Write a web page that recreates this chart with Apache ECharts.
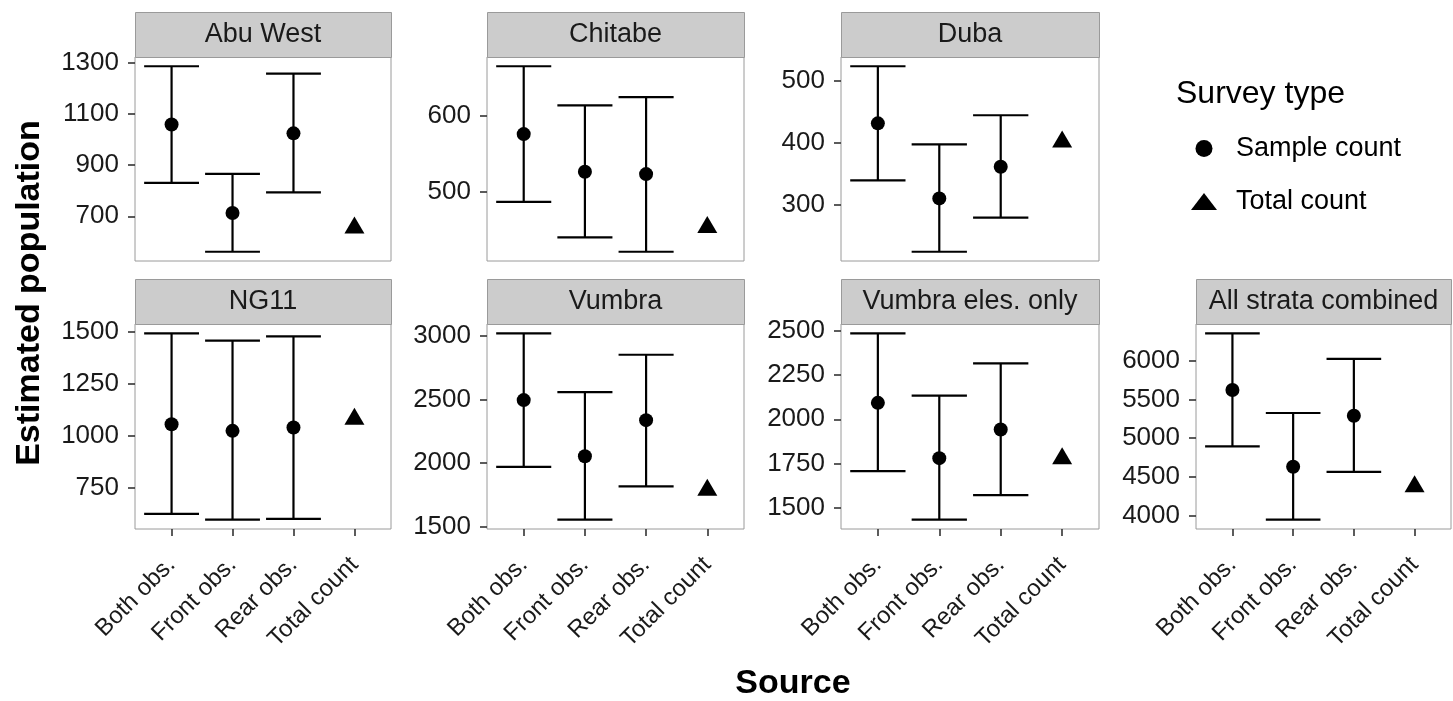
<!DOCTYPE html>
<html>
<head>
<meta charset="utf-8">
<script src="https://cdn.jsdelivr.net/npm/echarts@6/dist/echarts.min.js"></script>
<style>
  html, body { margin: 0; padding: 0; background: #fff; }
  #chart { width: 1453px; height: 701px; }
</style>
</head>
<body>
<div id="chart"></div>
<script>
// ---------------- data ----------------
const panels = ['Abu West', 'Chitabe', 'Duba', 'NG11', 'Vumbra', 'Vumbra eles. only', 'All strata combined'];
const sources = ['Both obs.', 'Front obs.', 'Rear obs.', 'Total count'];
// sample-count estimates for Both / Front / Rear obs.
const sampleEst = [
  [1060, 713, 1025],
  [576, 526, 523],
  [432, 311, 362],
  [1056, 1024, 1040],
  [2495, 2055, 2338],
  [2093, 1781, 1943],
  [5622, 4632, 5290]
];
const lowerCI = [
  [831, 561, 794],
  [486, 439, 420],
  [340, 225, 280],
  [624, 596, 600],
  [1971, 1557, 1819],
  [1708, 1434, 1573],
  [4895, 3948, 4564]
];
const upperCI = [
  [1288, 866, 1259],
  [666, 614, 625],
  [524, 398, 445],
  [1494, 1459, 1479],
  [3019, 2558, 2851],
  [2485, 2134, 2316],
  [6353, 5325, 6022]
];
const totalCount = [654, 452, 402, 1080, 1788, 1777, 4374];
const yTickValues = [
  [700, 900, 1100, 1300],
  [500, 600],
  [300, 400, 500],
  [750, 1000, 1250, 1500],
  [1500, 2000, 2500, 3000],
  [1500, 1750, 2000, 2250, 2500],
  [4000, 4500, 5000, 5500, 6000]
];
const legendNames = ['Sample count', 'Total count'];

// ---------------- layout ----------------
const rects = [
  [135, 57, 256, 204], [487, 57, 257, 204], [841, 57, 258, 204],
  [135, 324, 256, 205], [487, 324, 257, 205], [841, 324, 258, 205], [1196, 324, 255, 205]
];
const bottomRow = [false, false, false, true, true, true, true];
const STRIP_H = 45;
const FONT = '"Liberation Sans", Arial, Helvetica, sans-serif';

const grids = [], xAxes = [], yAxes = [], series = [], graphics = [];

function errorBarItem(params, api) {
  const x = api.value(0);
  const pLo = api.coord([x, api.value(1)]);
  const pHi = api.coord([x, api.value(2)]);
  const halfW = api.size([0.9, 0])[0] / 2;
  const style = { stroke: '#000', lineWidth: 2.2 };
  return {
    type: 'group',
    children: [
      { type: 'line', shape: { x1: pLo[0], y1: pHi[1], x2: pLo[0], y2: pLo[1] }, style },
      { type: 'line', shape: { x1: pHi[0] - halfW, y1: pHi[1], x2: pHi[0] + halfW, y2: pHi[1] }, style },
      { type: 'line', shape: { x1: pLo[0] - halfW, y1: pLo[1], x2: pLo[0] + halfW, y2: pLo[1] }, style }
    ]
  };
}

panels.forEach((name, i) => {
  const [l, t, w, h] = rects[i];
  grids.push({
    left: l, top: t, width: w, height: h,
    show: true, borderColor: '#9a9a9a', borderWidth: 1, backgroundColor: '#fff'
  });
  const allVals = lowerCI[i].concat(upperCI[i], [totalCount[i]]);
  const lo = Math.min(...allVals), hi = Math.max(...allVals);
  const pad = (hi - lo) * 0.05;
  xAxes.push({
    type: 'value', gridIndex: i, min: -0.6, max: 3.6, position: 'bottom',
    axisLine: { show: false, onZero: false },
    splitLine: { show: false },
    axisTick: {
      show: bottomRow[i], customValues: [0, 1, 2, 3], length: 7,
      lineStyle: { color: '#333', width: 1.6 }
    },
    axisLabel: {
      show: bottomRow[i], customValues: [0, 1, 2, 3], rotate: 45, margin: 32,
      formatter: v => sources[Math.round(v)] || '',
      color: '#1a1a1a', fontSize: 24, fontFamily: FONT
    }
  });
  yAxes.push({
    type: 'value', gridIndex: i, min: lo - pad, max: hi + pad, position: 'left',
    axisLine: { show: false, onZero: false },
    splitLine: { show: false },
    axisTick: {
      show: true, customValues: yTickValues[i], length: 7,
      lineStyle: { color: '#333', width: 1.6 }
    },
    axisLabel: {
      customValues: yTickValues[i], margin: 16,
      formatter: v => String(v),
      color: '#1a1a1a', fontSize: 26, fontFamily: FONT
    }
  });
  series.push({
    type: 'custom', name: 'CI', xAxisIndex: i, yAxisIndex: i,
    renderItem: errorBarItem,
    encode: { x: 0, y: [1, 2] },
    data: lowerCI[i].map((v, k) => [k, v, upperCI[i][k]]),
    silent: true, z: 2
  });
  series.push({
    type: 'scatter', name: legendNames[0], xAxisIndex: i, yAxisIndex: i,
    symbol: 'circle', symbolSize: 14,
    itemStyle: { color: '#000', opacity: 1 },
    data: sampleEst[i].map((v, k) => [k, v]), z: 3
  });
  series.push({
    type: 'scatter', name: legendNames[1], xAxisIndex: i, yAxisIndex: i,
    symbol: 'triangle', symbolSize: [20, 17], symbolOffset: [0, -3],
    itemStyle: { color: '#000', opacity: 1 },
    data: [[3, totalCount[i]]], z: 3
  });
  // facet strip
  graphics.push({
    type: 'rect', left: l, top: t - STRIP_H,
    shape: { width: w, height: STRIP_H },
    style: { fill: '#cccccc', stroke: '#9a9a9a', lineWidth: 1 }, z: 10
  });
  graphics.push({
    type: 'text', x: l + w / 2, y: t - STRIP_H / 2,
    style: {
      text: name, fill: '#1a1a1a', font: '27px ' + FONT,
      textAlign: 'center', textVerticalAlign: 'middle'
    }, z: 11
  });
});

// axis titles and legend title
graphics.push({
  type: 'text', x: 30, y: 293, rotation: Math.PI / 2,
  style: {
    text: 'Estimated population', fill: '#000', font: 'bold 34px ' + FONT,
    textAlign: 'center', textVerticalAlign: 'middle'
  }
});
graphics.push({
  type: 'text', x: 793, y: 684,
  style: {
    text: 'Source', fill: '#000', font: 'bold 34px ' + FONT,
    textAlign: 'center', textVerticalAlign: 'middle'
  }
});
graphics.push({
  type: 'text', x: 1176, y: 94,
  style: {
    text: 'Survey type', fill: '#000', font: '32px ' + FONT,
    textAlign: 'left', textVerticalAlign: 'middle'
  }
});

const chart = echarts.init(document.getElementById('chart'), null, { renderer: 'canvas' });
chart.setOption({
  animation: false,
  backgroundColor: '#fff',
  grid: grids,
  xAxis: xAxes,
  yAxis: yAxes,
  series: series,
  graphic: graphics,
  legend: {
    data: legendNames,
    orient: 'vertical', left: 1186, top: 130,
    itemWidth: 26, itemHeight: 17, itemGap: 26,
    textStyle: { fontSize: 27, color: '#000', fontFamily: FONT, padding: [0, 0, 0, 14] }
  }
});
</script>
</body>
</html>
